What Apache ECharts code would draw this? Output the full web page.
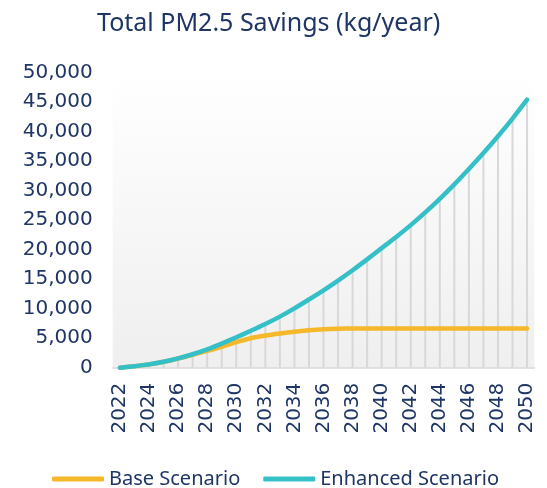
<!DOCTYPE html>
<html>
<head>
<meta charset="utf-8">
<script src="https://cdn.jsdelivr.net/npm/echarts@6/dist/echarts.min.js"></script>
<style>html,body{margin:0;padding:0;background:#fff;}#chart{width:547px;height:488px;}</style>
</head>
<body>
<div id="chart"></div>
<script>
const years = ['2022','2023','2024','2025','2026','2027','2028','2029','2030','2031','2032','2033','2034','2035','2036','2037','2038','2039','2040','2041','2042','2043','2044','2045','2046','2047','2048','2049','2050'];
const baseScenario = [0,250,560,1000,1560,2200,2850,3550,4350,5000,5450,5800,6100,6330,6500,6600,6650,6660,6660,6660,6660,6660,6660,6660,6660,6660,6660,6660,6660];
const enhancedScenario = [0,250,560,1000,1580,2280,3100,4080,5150,6250,7400,8650,10050,11550,13100,14750,16500,18350,20250,22150,24150,26300,28600,31050,33650,36350,39200,42200,45400];
const seriesNames = ['Base Scenario','Enhanced Scenario'];
const yTicks = {min:0, max:50000, interval:5000};

const navy = '#1e3565';
const chart = echarts.init(document.getElementById('chart'), null, {renderer:'canvas'});
chart.setOption({
  animation:false,
  title:{
    text:'Total PM2.5 Savings (kg/year)',
    left:92, top:6,
    textStyle:{fontFamily:'Noto Sans', fontSize:25, fontWeight:'normal', color:navy}
  },
  legend:{
    data:seriesNames,
    left:47, top:464,
    icon:'roundRect', itemWidth:52, itemHeight:5, itemGap:23,
    textStyle:{fontFamily:'Noto Sans', fontSize:20, color:navy}
  },
  grid:{
    left:112.7, right:12.7, top:72.5, bottom:120.3,
    show:true, borderWidth:0,
    backgroundColor:{type:'linear', x:0, y:0, x2:0, y2:1, colorStops:[{offset:0,color:'#ffffff'},{offset:1,color:'#efefef'}]}
  },
  xAxis:{
    type:'category', data:years, boundaryGap:true,
    axisLine:{show:true, lineStyle:{color:'#d9d9d9', width:1.5}},
    axisTick:{show:false},
    axisLabel:{interval:1, rotate:90, margin:15, fontFamily:'DejaVu Sans', fontSize:20, color:navy}
  },
  yAxis:{
    type:'value', min:yTicks.min, max:yTicks.max, interval:yTicks.interval,
    axisLine:{show:false}, axisTick:{show:false}, splitLine:{show:false},
    axisLabel:{margin:20, fontFamily:'DejaVu Sans', fontSize:20, color:navy,
      formatter:v=>v.toLocaleString('en-US')}
  },
  series:[
    {type:'bar', name:'drop', data:enhancedScenario, barWidth:2, silent:true, z:1,
     itemStyle:{color:'#d8d8d8'}},
    {type:'line', name:seriesNames[0], data:baseScenario, smooth:0.3, symbol:'none', z:3,
     lineStyle:{color:'#f4b82a', width:4.5, cap:'round'}, itemStyle:{color:'#f4b82a'}},
    {type:'line', name:seriesNames[1], data:enhancedScenario, smooth:0.3, symbol:'none', z:4,
     lineStyle:{color:'#35bfc7', width:4.5, cap:'round'}, itemStyle:{color:'#35bfc7'}}
  ]
});
</script>
</body>
</html>
